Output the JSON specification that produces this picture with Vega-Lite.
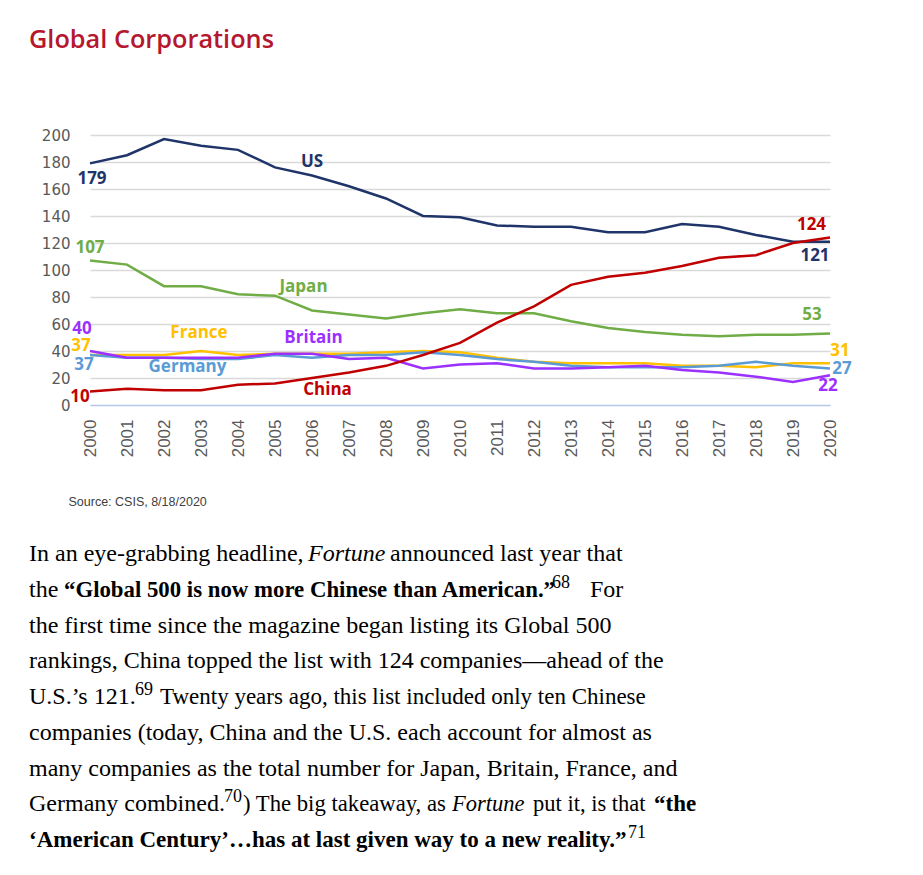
{
  "$schema": "https://vega.github.io/schema/vega-lite/v6.json",
  "background": "white",
  "padding": {"left": 29, "top": 27, "right": 5, "bottom": 5},
  "bounds": "flush",
  "spacing": 156,
  "config": {
    "view": {"stroke": null},
    "style": {
      "lbl": {"font": "Open Sans", "fontSize": 17, "fontWeight": "bold", "baseline": "middle", "align": "center"},
      "para": {"font": "Liberation Serif", "fontSize": 24, "fill": "#231f20", "align": "left", "baseline": "alphabetic"}
    }
  },
  "datasets": {
    "corp": [
      {"country":"US","year":2000,"value":179},{"country":"US","year":2001,"value":185},{"country":"US","year":2002,"value":197},{"country":"US","year":2003,"value":192},{"country":"US","year":2004,"value":189},{"country":"US","year":2005,"value":176},{"country":"US","year":2006,"value":170},{"country":"US","year":2007,"value":162},{"country":"US","year":2008,"value":153},{"country":"US","year":2009,"value":140},{"country":"US","year":2010,"value":139},{"country":"US","year":2011,"value":133},{"country":"US","year":2012,"value":132},{"country":"US","year":2013,"value":132},{"country":"US","year":2014,"value":128},{"country":"US","year":2015,"value":128},{"country":"US","year":2016,"value":134},{"country":"US","year":2017,"value":132},{"country":"US","year":2018,"value":126},{"country":"US","year":2019,"value":121},{"country":"US","year":2020,"value":121},
      {"country":"Japan","year":2000,"value":107},{"country":"Japan","year":2001,"value":104},{"country":"Japan","year":2002,"value":88},{"country":"Japan","year":2003,"value":88},{"country":"Japan","year":2004,"value":82},{"country":"Japan","year":2005,"value":81},{"country":"Japan","year":2006,"value":70},{"country":"Japan","year":2007,"value":67},{"country":"Japan","year":2008,"value":64},{"country":"Japan","year":2009,"value":68},{"country":"Japan","year":2010,"value":71},{"country":"Japan","year":2011,"value":68},{"country":"Japan","year":2012,"value":68},{"country":"Japan","year":2013,"value":62},{"country":"Japan","year":2014,"value":57},{"country":"Japan","year":2015,"value":54},{"country":"Japan","year":2016,"value":52},{"country":"Japan","year":2017,"value":51},{"country":"Japan","year":2018,"value":52},{"country":"Japan","year":2019,"value":52},{"country":"Japan","year":2020,"value":53},
      {"country":"France","year":2000,"value":37},{"country":"France","year":2001,"value":37},{"country":"France","year":2002,"value":37},{"country":"France","year":2003,"value":40},{"country":"France","year":2004,"value":37},{"country":"France","year":2005,"value":38},{"country":"France","year":2006,"value":38},{"country":"France","year":2007,"value":38},{"country":"France","year":2008,"value":39},{"country":"France","year":2009,"value":40},{"country":"France","year":2010,"value":39},{"country":"France","year":2011,"value":35},{"country":"France","year":2012,"value":32},{"country":"France","year":2013,"value":31},{"country":"France","year":2014,"value":31},{"country":"France","year":2015,"value":31},{"country":"France","year":2016,"value":29},{"country":"France","year":2017,"value":29},{"country":"France","year":2018,"value":28},{"country":"France","year":2019,"value":31},{"country":"France","year":2020,"value":31},
      {"country":"Germany","year":2000,"value":37},{"country":"Germany","year":2001,"value":35},{"country":"Germany","year":2002,"value":35},{"country":"Germany","year":2003,"value":34},{"country":"Germany","year":2004,"value":34},{"country":"Germany","year":2005,"value":37},{"country":"Germany","year":2006,"value":35},{"country":"Germany","year":2007,"value":37},{"country":"Germany","year":2008,"value":37},{"country":"Germany","year":2009,"value":39},{"country":"Germany","year":2010,"value":37},{"country":"Germany","year":2011,"value":34},{"country":"Germany","year":2012,"value":32},{"country":"Germany","year":2013,"value":29},{"country":"Germany","year":2014,"value":28},{"country":"Germany","year":2015,"value":28},{"country":"Germany","year":2016,"value":28},{"country":"Germany","year":2017,"value":29},{"country":"Germany","year":2018,"value":32},{"country":"Germany","year":2019,"value":29},{"country":"Germany","year":2020,"value":27},
      {"country":"Britain","year":2000,"value":40},{"country":"Britain","year":2001,"value":35},{"country":"Britain","year":2002,"value":35},{"country":"Britain","year":2003,"value":35},{"country":"Britain","year":2004,"value":35},{"country":"Britain","year":2005,"value":38},{"country":"Britain","year":2006,"value":38},{"country":"Britain","year":2007,"value":34},{"country":"Britain","year":2008,"value":35},{"country":"Britain","year":2009,"value":27},{"country":"Britain","year":2010,"value":30},{"country":"Britain","year":2011,"value":31},{"country":"Britain","year":2012,"value":27},{"country":"Britain","year":2013,"value":27},{"country":"Britain","year":2014,"value":28},{"country":"Britain","year":2015,"value":29},{"country":"Britain","year":2016,"value":26},{"country":"Britain","year":2017,"value":24},{"country":"Britain","year":2018,"value":21},{"country":"Britain","year":2019,"value":17},{"country":"Britain","year":2020,"value":22},
      {"country":"China","year":2000,"value":10},{"country":"China","year":2001,"value":12},{"country":"China","year":2002,"value":11},{"country":"China","year":2003,"value":11},{"country":"China","year":2004,"value":15},{"country":"China","year":2005,"value":16},{"country":"China","year":2006,"value":20},{"country":"China","year":2007,"value":24},{"country":"China","year":2008,"value":29},{"country":"China","year":2009,"value":37},{"country":"China","year":2010,"value":46},{"country":"China","year":2011,"value":61},{"country":"China","year":2012,"value":73},{"country":"China","year":2013,"value":89},{"country":"China","year":2014,"value":95},{"country":"China","year":2015,"value":98},{"country":"China","year":2016,"value":103},{"country":"China","year":2017,"value":109},{"country":"China","year":2018,"value":111},{"country":"China","year":2019,"value":120},{"country":"China","year":2020,"value":124}
    ],
    "para": [
      {"line":1,"seg":"n","text":"In an eye-grabbing headline,"},
      {"line":1,"seg":"i1","text":"Fortune"},
      {"line":1,"seg":"n1b","text":"announced last year that"},
      {"line":2,"seg":"n","text":"the"},
      {"line":2,"seg":"b2","text":"“Global 500 is now more Chinese than American.”"},
      {"line":2,"seg":"s2","text":"68"},
      {"line":2,"seg":"n2b","text":"For"},
      {"line":3,"seg":"n","text":"the first time since the magazine began listing its Global 500"},
      {"line":4,"seg":"n","text":"rankings, China topped the list with 124 companies—ahead of the"},
      {"line":5,"seg":"n","text":"U.S.’s 121."},
      {"line":5,"seg":"s5","text":"69"},
      {"line":5,"seg":"n5b","text":"Twenty years ago, this list included only ten Chinese"},
      {"line":6,"seg":"n","text":"companies (today, China and the U.S. each account for almost as"},
      {"line":7,"seg":"n","text":"many companies as the total number for Japan, Britain, France, and"},
      {"line":8,"seg":"n","text":"Germany combined."},
      {"line":8,"seg":"s8","text":"70"},
      {"line":8,"seg":"n8a","text":") The big takeaway, as"},
      {"line":8,"seg":"i8","text":"Fortune"},
      {"line":8,"seg":"n8b","text":"put it, is that"},
      {"line":8,"seg":"b8","text":"“the"},
      {"line":9,"seg":"b9","text":"‘American Century’…has at last given way to a new reality.”"},
      {"line":9,"seg":"s9","text":"71"}
    ]
  },
  "vconcat": [
    {
      "width": 740,
      "height": 270,
      "title": {"text": "Global Corporations", "anchor": "start", "frame": "group", "dx": -61, "offset": 55, "baseline": "alphabetic", "font": "Open Sans", "fontSize": 25.3, "fontWeight": 600, "color": "#b5172f"},
      "data": {"name": "corp"},
      "encoding": {
        "x": {"field": "year", "type": "ordinal", "scale": {"type": "point", "padding": 0},
          "axis": {"labelAngle": -90, "labelPadding": 14, "ticks": false, "domain": false, "grid": false, "labelFont": "Liberation Sans", "labelFontSize": 17, "labelColor": "#595959",
            "title": "Source: CSIS, 8/18/2020", "titleX": -22, "titleY": 96, "titleAnchor": "start", "titleAlign": "left", "titleBaseline": "middle", "titleFont": "Liberation Sans", "titleFontSize": 12.5, "titleFontWeight": "normal", "titleColor": "#404040"}},
        "y": {"field": "value", "type": "quantitative", "scale": {"domain": [0, 200]},
          "axis": {"values": [0,20,40,60,80,100,120,140,160,180,200], "grid": true, "gridColor": {"condition": {"test": "datum.value === 0", "value": "#b4c7e7"}, "value": "#d9d9d9"}, "gridWidth": 1.5, "domain": false, "ticks": false, "labelPadding": 20, "labelFont": "DejaVu Sans", "labelFontSize": 15, "labelColor": "#595959", "title": null}},
        "color": {"field": "country", "type": "nominal", "scale": {"domain": ["US","Japan","France","Germany","Britain","China"], "range": ["#1f3468","#70ad47","#ffc000","#5b9bd5","#9b30ff","#c00000"]}, "legend": null}
      },
      "layer": [
        {"mark": {"type": "line", "strokeWidth": 2.5}},
        {"transform": [{"filter": "datum.country === 'US' && datum.year === 2000"}], "mark": {"type": "text", "style": "lbl", "dx": 2, "dy": 16}, "encoding": {"text": {"field": "value"}}},
        {"transform": [{"filter": "datum.country === 'Japan' && datum.year === 2000"}], "mark": {"type": "text", "style": "lbl", "dx": 0, "dy": -12.5}, "encoding": {"text": {"field": "value"}}},
        {"transform": [{"filter": "datum.country === 'Britain' && datum.year === 2000"}], "mark": {"type": "text", "style": "lbl", "dx": -8, "dy": -22}, "encoding": {"text": {"field": "value"}}},
        {"transform": [{"filter": "datum.country === 'France' && datum.year === 2000"}], "mark": {"type": "text", "style": "lbl", "dx": -9, "dy": -9}, "encoding": {"text": {"field": "value"}}},
        {"transform": [{"filter": "datum.country === 'Germany' && datum.year === 2000"}], "mark": {"type": "text", "style": "lbl", "dx": -6, "dy": 10}, "encoding": {"text": {"field": "value"}}},
        {"transform": [{"filter": "datum.country === 'China' && datum.year === 2000"}], "mark": {"type": "text", "style": "lbl", "dx": -10, "dy": 5.5}, "encoding": {"text": {"field": "value"}}},
        {"transform": [{"filter": "datum.country === 'China' && datum.year === 2020"}], "mark": {"type": "text", "style": "lbl", "dx": -18.5, "dy": -12.6}, "encoding": {"text": {"field": "value"}}},
        {"transform": [{"filter": "datum.country === 'US' && datum.year === 2020"}], "mark": {"type": "text", "style": "lbl", "dx": -15, "dy": 14}, "encoding": {"text": {"field": "value"}}},
        {"transform": [{"filter": "datum.country === 'Japan' && datum.year === 2020"}], "mark": {"type": "text", "style": "lbl", "dx": -18, "dy": -18}, "encoding": {"text": {"field": "value"}}},
        {"transform": [{"filter": "datum.country === 'France' && datum.year === 2020"}], "mark": {"type": "text", "style": "lbl", "dx": 10, "dy": -12}, "encoding": {"text": {"field": "value"}}},
        {"transform": [{"filter": "datum.country === 'Germany' && datum.year === 2020"}], "mark": {"type": "text", "style": "lbl", "dx": 12, "dy": 0.5}, "encoding": {"text": {"field": "value"}}},
        {"transform": [{"filter": "datum.country === 'Britain' && datum.year === 2020"}], "mark": {"type": "text", "style": "lbl", "dx": -2, "dy": 11}, "encoding": {"text": {"field": "value"}}},
        {"transform": [{"filter": "datum.country === 'US' && datum.year === 2006"}], "mark": {"type": "text", "style": "lbl", "dx": 0, "dy": -14}, "encoding": {"text": {"field": "country"}}},
        {"transform": [{"filter": "datum.country === 'Japan' && datum.year === 2006"}], "mark": {"type": "text", "style": "lbl", "dx": -8.5, "dy": -23.5}, "encoding": {"text": {"field": "country"}}},
        {"transform": [{"filter": "datum.country === 'France' && datum.year === 2003"}], "mark": {"type": "text", "style": "lbl", "dx": -2, "dy": -18}, "encoding": {"text": {"field": "country"}}},
        {"transform": [{"filter": "datum.country === 'Britain' && datum.year === 2006"}], "mark": {"type": "text", "style": "lbl", "dx": 1.5, "dy": -15.7}, "encoding": {"text": {"field": "country"}}},
        {"transform": [{"filter": "datum.country === 'Germany' && datum.year === 2003"}], "mark": {"type": "text", "style": "lbl", "dx": -13.5, "dy": 8}, "encoding": {"text": {"field": "country"}}},
        {"transform": [{"filter": "datum.country === 'China' && datum.year === 2006"}], "mark": {"type": "text", "style": "lbl", "dx": 15.5, "dy": 11.7}, "encoding": {"text": {"field": "country"}}}
      ]
    },
    {
      "width": 740,
      "height": 286,
      "data": {"name": "para"},
      "encoding": {
        "x": {"datum": 0, "type": "quantitative", "scale": {"domain": [0, 1]}, "axis": null},
        "y": {"field": "line", "type": "ordinal", "scale": {"type": "point", "padding": 0}, "axis": null},
        "text": {"field": "text"}
      },
      "layer": [
        {"transform": [{"filter": "datum.seg === 'n'"}], "mark": {"type": "text", "style": "para", "dx": -61}},
        {"transform": [{"filter": "datum.seg === 'b9'"}], "mark": {"type": "text", "style": "para", "fontWeight": "bold", "fontSize": 23, "dx": -61}},
        {"transform": [{"filter": "datum.seg === 'i1'"}], "mark": {"type": "text", "style": "para", "fontStyle": "italic", "dx": 218}},
        {"transform": [{"filter": "datum.seg === 'n1b'"}], "mark": {"type": "text", "style": "para", "dx": 300}},
        {"transform": [{"filter": "datum.seg === 'b2'"}], "mark": {"type": "text", "style": "para", "fontWeight": "bold", "fontSize": 22.8, "dx": -26}},
        {"transform": [{"filter": "datum.seg === 's2'"}], "mark": {"type": "text", "style": "para", "fontSize": 18, "dx": 462, "dy": -9}},
        {"transform": [{"filter": "datum.seg === 'n2b'"}], "mark": {"type": "text", "style": "para", "dx": 500}},
        {"transform": [{"filter": "datum.seg === 's5'"}], "mark": {"type": "text", "style": "para", "fontSize": 18, "dx": 45, "dy": -9}},
        {"transform": [{"filter": "datum.seg === 'n5b'"}], "mark": {"type": "text", "style": "para", "fontSize": 23, "dx": 70}},
        {"transform": [{"filter": "datum.seg === 's8'"}], "mark": {"type": "text", "style": "para", "fontSize": 18, "dx": 134, "dy": -9}},
        {"transform": [{"filter": "datum.seg === 'n8a'"}], "mark": {"type": "text", "style": "para", "fontSize": 22.7, "dx": 153}},
        {"transform": [{"filter": "datum.seg === 'i8'"}], "mark": {"type": "text", "style": "para", "fontStyle": "italic", "fontSize": 22.5, "dx": 362}},
        {"transform": [{"filter": "datum.seg === 'n8b'"}], "mark": {"type": "text", "style": "para", "fontSize": 22.5, "dx": 443}},
        {"transform": [{"filter": "datum.seg === 'b8'"}], "mark": {"type": "text", "style": "para", "fontWeight": "bold", "fontSize": 23, "dx": 564}},
        {"transform": [{"filter": "datum.seg === 's9'"}], "mark": {"type": "text", "style": "para", "fontSize": 18, "dx": 538, "dy": -9}}
      ]
    }
  ]
}
